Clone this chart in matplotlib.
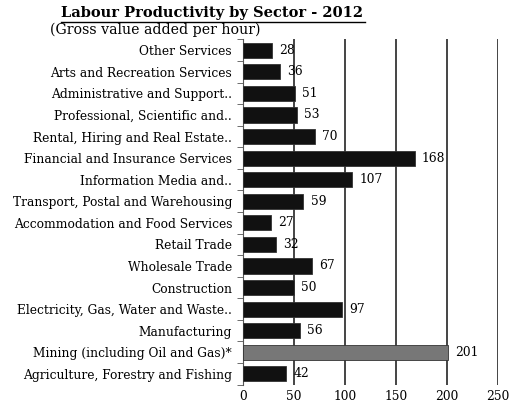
import matplotlib.pyplot as plt
import numpy as np

sectors = ['Other Services', 'Arts and Recreation Services', 'Administrative and Support..',
           'Professional, Scientific and..', 'Rental, Hiring and Real Estate..',
           'Financial and Insurance Services', 'Information Media and..',
           'Transport, Postal and Warehousing', 'Accommodation and Food Services',
           'Retail Trade', 'Wholesale Trade', 'Construction',
           'Electricity, Gas, Water and Waste..', 'Manufacturing',
           'Mining (including Oil and Gas)*', 'Agriculture, Forestry and Fishing']
values = [28, 36, 51, 53, 70, 168, 107, 59, 27, 32, 67, 50, 97, 56, 201, 42]
xticks = [0, 50, 100, 150, 200, 250]

plt.rcParams['font.family'] = ['DejaVu Serif']

fig = plt.figure(figsize=(5.11, 4.07), dpi=100)
ax = fig.add_axes([0.476, 0.055, 0.499, 0.848])

y = np.arange(len(sectors))
colors = ['#777777' if s.startswith('Mining') else '#111111' for s in sectors]
ax.barh(y, values, height=0.7, color=colors, edgecolor='#333333', linewidth=0.6, zorder=3)
for yi, v in zip(y, values):
    ax.text(v + 7, yi, str(v), va='center', ha='left', fontsize=8.8, zorder=4)

ax.set_ylim(len(sectors) - 0.5, -0.5)
ax.set_xlim(0, 250)
ax.set_xticks(xticks)
ax.set_xticklabels([str(t) for t in xticks], fontsize=8.8)
ax.set_yticks(y)
ax.set_yticklabels(sectors, fontsize=8.8)
ax.set_yticks(np.arange(len(sectors) + 1) - 0.5, minor=True)
ax.tick_params(axis='y', which='major', length=0, pad=8)
ax.tick_params(axis='y', which='minor', length=4, color='#555555')
ax.tick_params(axis='x', length=0, pad=4)
ax.xaxis.grid(True, color='#444444', linewidth=1.4, zorder=0)
for side in ['top', 'right', 'bottom']:
    ax.spines[side].set_visible(False)
ax.spines['left'].set_color('#555555')

fig.text(0.12, 0.968, 'Labour Productivity by Sector - 2012', fontsize=10.5,
         fontweight='bold', ha='left', va='center')
fig.add_artist(plt.Line2D([0.12, 0.715], [0.945, 0.945], color='black', linewidth=1))
fig.text(0.098, 0.927, '(Gross value added per hour)', fontsize=10.2, ha='left', va='center')

fig.savefig('out.png', dpi=100)
